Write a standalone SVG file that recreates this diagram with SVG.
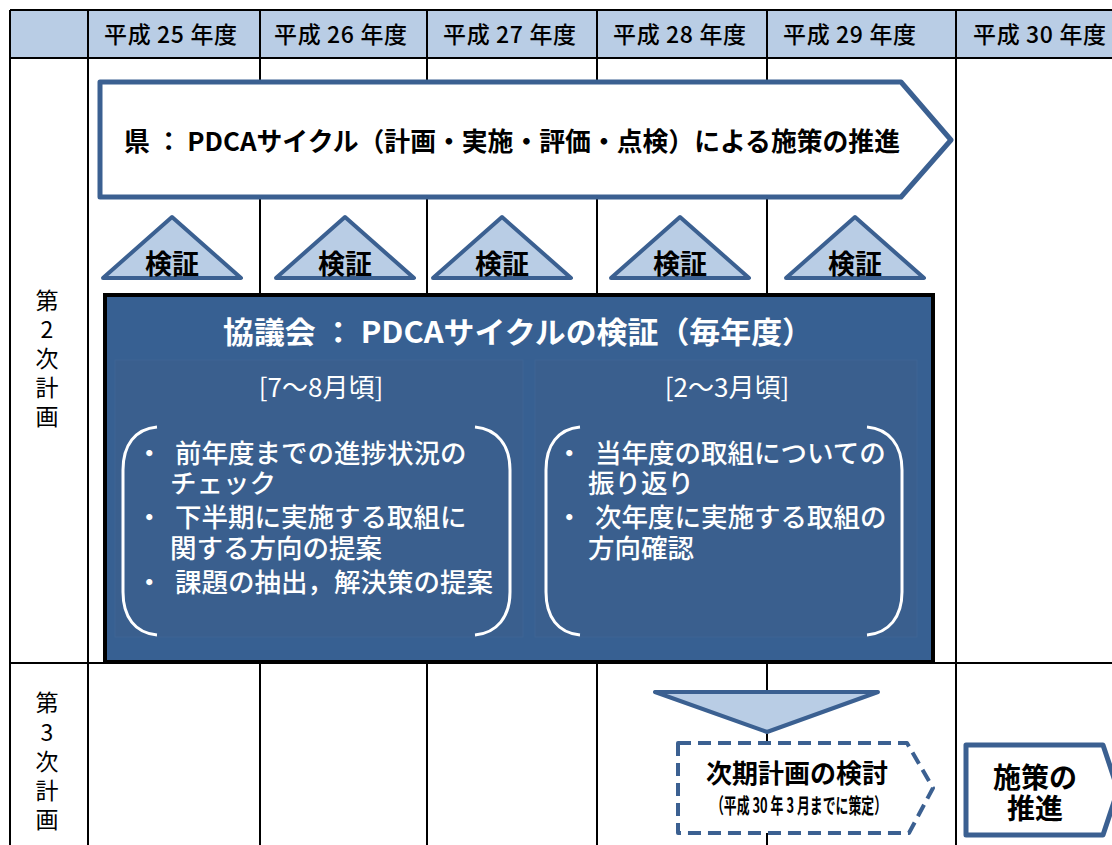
<svg xmlns="http://www.w3.org/2000/svg" width="1112" height="845" viewBox="0 0 1112 845">
<style>
.grid{stroke:#000;stroke-width:2;fill:none}
.hdr{font-family:"Noto Sans CJK JP",sans-serif;font-size:23px;font-weight:500;fill:#000}
.side{font-family:"Noto Sans CJK JP",sans-serif;font-size:23px;fill:#000;text-anchor:middle}
.bold{font-family:"Noto Sans CJK JP",sans-serif;font-weight:700;fill:#000}
.mid{text-anchor:middle}
.tri{fill:#b9cde5;stroke:#3b6091;stroke-width:4;stroke-linejoin:round}
.body{font-family:"Noto Sans CJK JP",sans-serif;font-size:26.5px;font-weight:500;fill:#fff}
.lbl{font-family:"Noto Sans CJK JP",sans-serif;font-size:26px;fill:#fff;text-anchor:middle}
.brk{fill:none;stroke:#fff;stroke-width:3}
.panel{fill:#3a5f8e;stroke:#3e6594;stroke-width:1}
.shape{fill:#fff;stroke:#3b6091;stroke-width:5;stroke-linejoin:round}
</style>
<g id="table">
  <rect x="10" y="10" width="1110" height="48" fill="#b9cde5"/>
  <path class="grid" d="M10,10H1112M10,58H1112M10,663H1112M10,10V845M88,10V845M260,10V845M427,10V845M597,10V845M767,10V845M956,10V845"/>
  <text class="hdr" x="104" y="43" textLength="133" lengthAdjust="spacing" xml:space="preserve">平成 25 年度</text>
  <text class="hdr" x="274" y="43" textLength="133" lengthAdjust="spacing" xml:space="preserve">平成 26 年度</text>
  <text class="hdr" x="443" y="43" textLength="133" lengthAdjust="spacing" xml:space="preserve">平成 27 年度</text>
  <text class="hdr" x="613" y="43" textLength="133" lengthAdjust="spacing" xml:space="preserve">平成 28 年度</text>
  <text class="hdr" x="783" y="43" textLength="133" lengthAdjust="spacing" xml:space="preserve">平成 29 年度</text>
  <text class="hdr" x="973" y="43" textLength="133" lengthAdjust="spacing" xml:space="preserve">平成 30 年度</text>
  <text class="side"><tspan x="47" y="309">第</tspan><tspan x="47" y="338">2</tspan><tspan x="47" y="367">次</tspan><tspan x="47" y="396">計</tspan><tspan x="47" y="425">画</tspan></text>
  <text class="side"><tspan x="47" y="711">第</tspan><tspan x="47" y="741">3</tspan><tspan x="47" y="770">次</tspan><tspan x="47" y="799">計</tspan><tspan x="47" y="828">画</tspan></text>
</g>
<g id="pref-arrow">
  <polygon class="shape" points="100,82 901,82 951,140 901,197 100,197"/>
  <text class="bold" x="124" y="151" font-size="26" textLength="776" lengthAdjust="spacingAndGlyphs" xml:space="preserve">県 ： PDCAサイクル（計画・実施・評価・点検）による施策の推進</text>
</g>
<g id="verify-1"><polygon class="tri" points="103,278 172,217 241,278"/><text class="bold mid" x="172" y="274" font-size="27">検証</text></g>
<g id="verify-2"><polygon class="tri" points="276,278 345,217 414,278"/><text class="bold mid" x="345" y="274" font-size="27">検証</text></g>
<g id="verify-3"><polygon class="tri" points="433,278 502,217 571,278"/><text class="bold mid" x="502" y="274" font-size="27">検証</text></g>
<g id="verify-4"><polygon class="tri" points="611,278 680,217 749,278"/><text class="bold mid" x="680" y="274" font-size="27">検証</text></g>
<g id="verify-5"><polygon class="tri" points="786,278 855,217 924,278"/><text class="bold mid" x="855" y="274" font-size="27">検証</text></g>
<g id="council">
  <rect x="105" y="295" width="828" height="367" fill="#376092" stroke="#000" stroke-width="4"/>
  <text class="bold" x="223" y="343" font-size="30" style="fill:#fff" textLength="590" lengthAdjust="spacingAndGlyphs" xml:space="preserve">協議会 ： PDCAサイクルの検証（毎年度）</text>
  <g id="council-jul-aug">
    <rect class="panel" x="115" y="360" width="408" height="277"/>
    <text class="lbl" x="321" y="397">[7～8月頃]</text>
    <path class="brk" d="M157,427C135,429 123,445 123,470L123,592C123,617 135,633 157,635"/>
    <path class="brk" d="M475,427C497,429 510,445 510,470L510,592C510,617 497,633 475,635"/>
    <text class="body"><tspan x="136" y="463">・</tspan><tspan x="175" y="463">前年度までの進捗状況の</tspan><tspan x="170" y="493">チェック</tspan><tspan x="136" y="527">・</tspan><tspan x="175" y="527">下半期に実施する取組に</tspan><tspan x="170" y="558">関する方向の提案</tspan><tspan x="136" y="592">・</tspan><tspan x="175" y="592">課題の抽出，解決策の提案</tspan></text>
  </g>
  <g id="council-feb-mar">
    <rect class="panel" x="535" y="360" width="382" height="277"/>
    <text class="lbl" x="727" y="397">[2～3月頃]</text>
    <path class="brk" d="M580,427C558,429 546,445 546,470L546,592C546,617 558,633 580,635"/>
    <path class="brk" d="M867,427C889,429 902,445 902,470L902,592C902,617 889,633 867,635"/>
    <text class="body"><tspan x="556" y="463">・</tspan><tspan x="595" y="463">当年度の取組についての</tspan><tspan x="588" y="493">振り返り</tspan><tspan x="556" y="527">・</tspan><tspan x="595" y="527">次年度に実施する取組の</tspan><tspan x="588" y="558">方向確認</tspan></text>
  </g>
</g>
<g id="connectors">
  <polygon class="tri" stroke-width="5" points="655,692 878,692 767,732"/>
</g>
<g id="next-plan">
  <path d="M678,743L907,743L933,788L909,833L678,833Z" fill="#fff" stroke="#3b6091" stroke-width="4" stroke-dasharray="13 7" stroke-linejoin="round"/>
  <text class="bold mid" x="797" y="783" font-size="26">次期計画の検討</text>
  <text class="bold mid" x="799" y="813" font-size="21" textLength="176" lengthAdjust="spacingAndGlyphs" xml:space="preserve">（平成 30 年 3 月までに策定）</text>
</g>
<g id="promote">
  <path class="shape" stroke-width="4" d="M966,745L1103,745L1118,790L1103,835L966,835Z"/>
  <text class="bold mid" x="1035" y="788" font-size="28">施策の</text>
  <text class="bold mid" x="1035" y="819" font-size="28">推進</text>
</g>
</svg>
